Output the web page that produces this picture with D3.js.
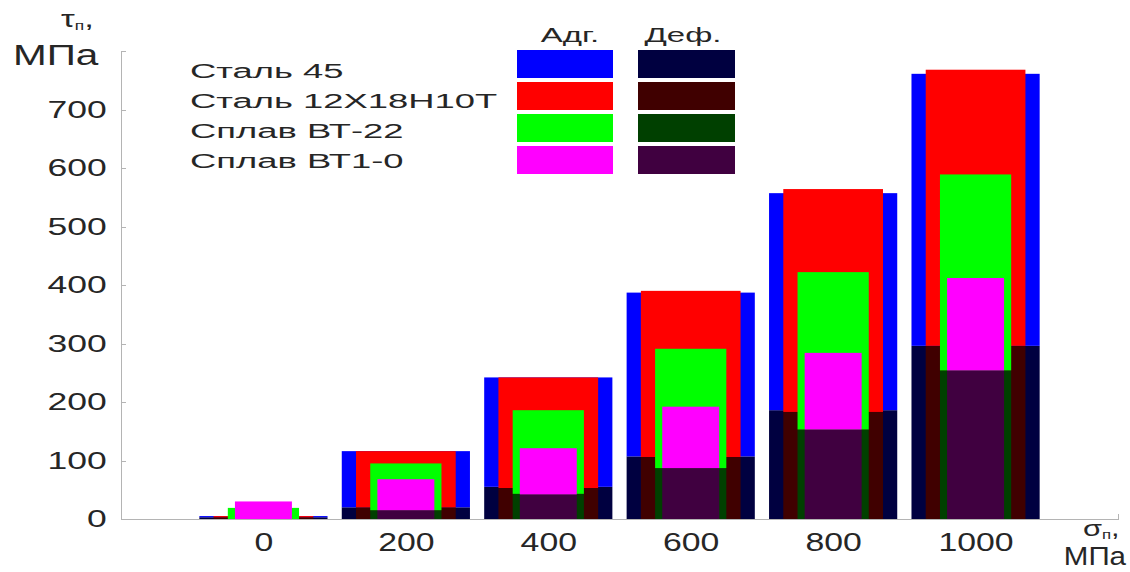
<!DOCTYPE html>
<html>
<head>
<meta charset="utf-8">
<script src="https://cdn.jsdelivr.net/npm/d3@7"></script>
<style>
  html, body { margin: 0; padding: 0; background: #fff; }
  svg { display: block; font-family: "Liberation Sans", Arial, sans-serif; }
</style>
</head>
<body>
<svg id="chart" width="1130" height="572"></svg>
<script>
// Normal stress levels, MPa
const sigma = [0, 200, 400, 600, 800, 1000];
const materials = ["Сталь 45", "Сталь 12Х18Н10Т", "Сплав ВТ-22", "Сплав ВТ1-0"];

// Adhesive (Адг.) and deformation (Деф.) components of friction stress, MPa
const adhSteel45 = [2, 96, 187, 280, 371, 465];
const defSteel45 = [3, 20, 55, 107, 186, 296];
const adhSteel12 = [2, 96, 189, 284, 381, 472];
const defSteel12 = [3, 20, 53, 106, 183, 296];
const adhVT22 = [19, 80, 143, 204, 269, 335];
const defVT22 = [0, 15, 43, 87, 153, 254];
const adhVT10 = [30, 53, 79, 105, 131, 158];
const defVT10 = [0, 15, 42, 87, 153, 254];

const yTicks = [0, 100, 200, 300, 400, 500, 600, 700, 800];
const xTicks = [-200, 0, 200, 400, 600, 800, 1000, 1200];

const adhColors = ["#0000ff", "#ff0000", "#00ff00", "#ff00ff"];
const defColors = ["#000040", "#400000", "#004000", "#400040"];
const barWidths = [180, 140, 100, 80]; // in MPa of the sigma axis

const series = [
  { adh: adhSteel45, def: defSteel45 },
  { adh: adhSteel12, def: defSteel12 },
  { adh: adhVT22, def: defVT22 },
  { adh: adhVT10, def: defVT10 }
];

const svg = d3.select("#chart");
const x = d3.scaleLinear().domain([-200, 1200]).range([121, 1118]);
const y = d3.scaleLinear().domain([0, 800]).range([519, 51]);

const axisColor = "#b4b4b4";
const textColor = "#262626";

// Axes (ticks pointing inward)
const yAxis = svg.append("g")
  .attr("transform", `translate(${x(-200)},0)`)
  .call(d3.axisLeft(y).tickValues(yTicks).tickSize(-5).tickSizeOuter(0)
    .tickPadding(9.7).tickFormat(d => d === 800 ? "" : d));
const xAxis = svg.append("g")
  .attr("transform", `translate(0,${y(0)})`)
  .call(d3.axisBottom(x).tickValues(xTicks).tickSize(-5).tickSizeOuter(0)
    .tickPadding(14).tickFormat(d => (d < 0 || d > 1000) ? "" : d));

[yAxis, xAxis].forEach(g => {
  g.select(".domain").attr("stroke", axisColor).attr("shape-rendering", "crispEdges");
  g.selectAll(".tick line").attr("stroke", axisColor).attr("shape-rendering", "crispEdges");
  g.selectAll(".tick text").attr("fill", textColor);
});
yAxis.selectAll(".tick text").attr("font-size", 24).attr("transform", "scale(1.48,1)");
xAxis.selectAll(".tick text").attr("font-size", 26).attr("transform", "scale(1.3,1)");

// Nested stacked bars: widest material behind, narrower ones in front
series.forEach((s, i) => {
  const w = x(barWidths[i]) - x(0);
  const g = svg.append("g");
  g.selectAll("rect.def").data(sigma).join("rect")
    .attr("x", d => x(d) - w / 2)
    .attr("width", w)
    .attr("y", (d, j) => y(s.def[j]))
    .attr("height", (d, j) => y(0) - y(s.def[j]))
    .attr("fill", defColors[i]);
  g.selectAll("rect.adh").data(sigma).join("rect")
    .attr("x", d => x(d) - w / 2)
    .attr("width", w)
    .attr("y", (d, j) => y(s.def[j] + s.adh[j]))
    .attr("height", (d, j) => y(s.def[j]) - y(s.def[j] + s.adh[j]))
    .attr("fill", adhColors[i]);
});

// Stretched text helper
function label(px, py, size, sx, anchor) {
  return svg.append("text")
    .attr("transform", `translate(${px},${py}) scale(${sx},1)`)
    .attr("font-size", size)
    .attr("text-anchor", anchor)
    .attr("fill", textColor);
}

// Axis titles
const tau = label(61, 27, 24, 1.45, "start");
tau.append("tspan").text("τ");
tau.append("tspan").attr("font-size", 12).attr("dy", 3).text("п");
tau.append("tspan").attr("dy", -3).text(",");
label(13, 65, 30, 1.35, "start").text("МПа");

const sig = label(1083, 536, 22, 1.4, "start");
sig.append("tspan").text("σ");
sig.append("tspan").attr("font-size", 12).attr("dy", 3).text("п");
sig.append("tspan").attr("dy", -3).text(",");
label(1126, 565, 25, 1.18, "end").text("МПа");

// Legend
materials.forEach((m, i) => {
  label(190, 78 + i * 30, 20, 1.82, "start").text(m);
});
label(570, 42, 20, 1.65, "middle").text("Адг.");
label(683, 42, 20, 1.65, "middle").text("Деф.");
const legendRows = d3.range(materials.length);
svg.append("g").selectAll("rect").data(legendRows).join("rect")
  .attr("x", 517).attr("width", 96)
  .attr("y", i => 50 + i * 32).attr("height", 28)
  .attr("fill", i => adhColors[i]);
svg.append("g").selectAll("rect").data(legendRows).join("rect")
  .attr("x", 638).attr("width", 97)
  .attr("y", i => 50 + i * 32).attr("height", 28)
  .attr("fill", i => defColors[i]);
</script>
</body>
</html>
